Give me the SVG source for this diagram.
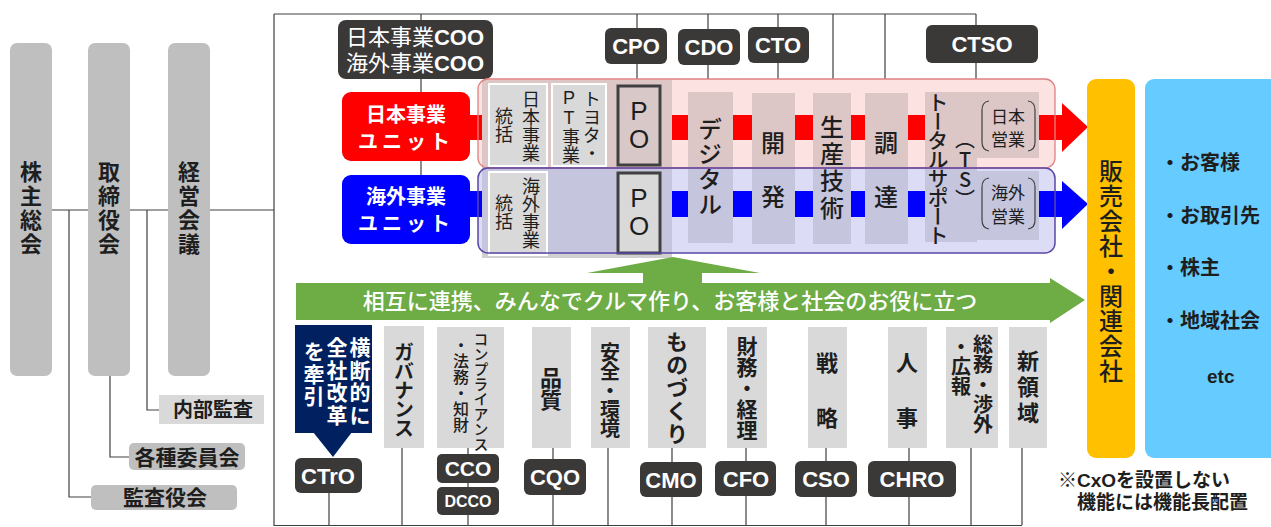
<svg xmlns="http://www.w3.org/2000/svg" width="1271" height="527" viewBox="0 0 1271 527">
<style>
text{font-family:"Liberation Sans","Noto Sans CJK JP",sans-serif;fill:#1e1e1e}
.jp{font-family:"Noto Sans CJK JP",sans-serif}
.v{writing-mode:vertical-rl;text-anchor:middle}
.vs{writing-mode:vertical-rl;text-anchor:start}
.up{text-orientation:upright}
.w{fill:#fff}
.b{font-weight:bold}
.md{font-weight:500}
.m{text-anchor:middle}
.dk{fill:#3b3838}
.g1{fill:#bfbfbf}
.col{fill:#d9d9d9}
.ln{stroke:#404040;stroke-width:1.2;fill:none}
.cp{fill:#dcc6c6}
.cb{fill:#c5c5de}
</style>
<rect width="1271" height="527" fill="#fff"/>
<g id="connectors" class="ln">
<path d="M52 210H88M130 210H168M210 210H274M69 210V497H91M110 375V457H129M147 210V410H159"/>
<path d="M274 14V526M274 14H976M274 525.5H1022"/>
<path d="M421 14V175M637 14V85M708 14V92M778 14V93M833 14V93M885 14V93M976 14V92"/>
<path d="M329 493V525M402 448V525M468 448V525M553 448V525M608 448V525M672 448V525M746 448V525M826 448V525M909 448V525M971 448V525M1022 448V525"/>
</g>
<g id="governance">
<g id="kabunushi"><rect class="g1" x="10" y="43" width="42" height="333" rx="7"/><text class="v jp b" x="31" y="209" font-size="22" letter-spacing="2">株主総会</text></g>
<g id="torishimariyaku"><rect class="g1" x="88" y="43" width="42" height="333" rx="7"/><text class="v jp b" x="109" y="209" font-size="22" letter-spacing="2">取締役会</text></g>
<g id="keiei"><rect class="g1" x="168" y="43" width="42" height="333" rx="7"/><text class="v jp b" x="189" y="209" font-size="22" letter-spacing="2">経営会議</text></g>
<g id="naibu"><rect x="159" y="395" width="105" height="29" fill="#d9d9d9"/><text class="m jp b" x="213" y="417" font-size="20">内部監査</text></g>
<g id="kakushu"><rect class="g1" x="129" y="443" width="116" height="27" rx="5"/><text class="m jp b" x="187" y="465" font-size="21">各種委員会</text></g>
<g id="kansa"><rect class="g1" x="91" y="485" width="146" height="25" rx="5"/><text class="m jp b" x="165" y="505" font-size="21">監査役会</text></g>
</g>
<g id="top-officers">
<g id="coo"><rect class="dk" x="338" y="20" width="155" height="59" rx="8"/><text class="m w" x="415" y="45" font-size="22">日本事業<tspan font-weight="bold">COO</tspan></text><text class="m w" x="415" y="71" font-size="22">海外事業<tspan font-weight="bold">COO</tspan></text></g>
<g id="cpo"><rect class="dk" x="605" y="28" width="62" height="36" rx="6"/><text class="m w b" x="636" y="54" font-size="22">CPO</text></g>
<g id="cdo"><rect class="dk" x="678" y="29" width="62" height="36" rx="6"/><text class="m w b" x="709" y="55" font-size="22">CDO</text></g>
<g id="cto"><rect class="dk" x="748" y="27" width="61" height="36" rx="6"/><text class="m w b" x="778" y="53" font-size="22">CTO</text></g>
<g id="ctso"><rect class="dk" x="926" y="25" width="112" height="38" rx="6"/><text class="m w b" x="982" y="52" font-size="22">CTSO</text></g>
</g>
<g id="business-bands">
<rect x="478" y="79" width="577" height="89" rx="10" fill="#fde2e2"/>
<rect x="478" y="168" width="577" height="85" rx="10" fill="#dcdcf6"/>
<rect x="470" y="115" width="592" height="25" fill="#ff0000"/>
<polygon points="1062,103 1088,127 1062,152" fill="#ff0000"/>
<rect x="470" y="191" width="592" height="26" fill="#0000ff"/>
<polygon points="1062,181 1088,204 1062,229" fill="#0000ff"/>
<rect class="cp" x="482" y="80" width="190" height="88"/>
<rect class="cb" x="482" y="168" width="190" height="85"/>
<rect x="482" y="253" width="190" height="5" fill="#d0d0d0"/>
<g id="jp-tokatsu"><rect x="489" y="84" width="58" height="82" fill="#d9d9d9" stroke="#fff" stroke-width="2"/><text class="v jp" x="531" y="126" font-size="18">日本事業</text><text class="v jp" x="504" y="125" font-size="18">統括</text></g>
<g id="toyota-pt"><rect x="552" y="84" width="54" height="82" fill="#d9d9d9" stroke="#fff" stroke-width="2"/><text class="v jp" x="592" y="126" font-size="18">トヨタ・</text><text class="v up" x="569" y="126" font-size="18">PT事業</text></g>
<g id="kaigai-tokatsu"><rect x="489" y="172" width="58" height="83" fill="#d9d9d9" stroke="#fff" stroke-width="2"/><text class="v jp" x="531" y="213" font-size="18">海外事業</text><text class="v jp" x="504" y="212" font-size="18">統括</text></g>
<g id="po-jp"><rect x="618" y="86" width="42" height="79" fill="#d9c8c8" stroke="#404040" stroke-width="3"/><text class="m" x="639" y="120" font-size="26">P</text><text class="m" x="639" y="148" font-size="26">O</text></g>
<g id="po-kaigai"><rect x="618" y="173" width="42" height="80" fill="#d9d9d9" stroke="#404040" stroke-width="3"/><text class="m" x="639" y="207" font-size="26">P</text><text class="m" x="639" y="235" font-size="26">O</text></g>
<g id="digital"><rect class="cp" x="688" y="92" width="45" height="76"/><rect class="cb" x="688" y="168" width="45" height="75"/><text class="v jp md" x="710" y="167" font-size="24" letter-spacing="1">デジタル</text></g>
<g id="kaihatsu"><rect class="cp" x="752" y="93" width="43" height="75"/><rect class="cb" x="752" y="168" width="43" height="76"/><text class="m jp md" x="773" y="152" font-size="24">開</text><text class="m jp md" x="773" y="206" font-size="24">発</text></g>
<g id="seisan"><rect class="cp" x="813" y="93" width="38" height="75"/><rect class="cb" x="813" y="168" width="38" height="76"/><text class="v jp md" x="832" y="169" font-size="24" letter-spacing="3">生産技術</text></g>
<g id="chotatsu"><rect class="cp" x="865" y="93" width="43" height="75"/><rect class="cb" x="865" y="168" width="43" height="76"/><text class="m jp md" x="886" y="152" font-size="24">調</text><text class="m jp md" x="886" y="206" font-size="24">達</text></g>
<g id="total-support"><rect class="cp" x="925" y="92" width="52" height="76"/><rect class="cb" x="925" y="168" width="52" height="74"/><rect class="cp" x="977" y="92" width="62" height="66"/><rect class="cb" x="977" y="171" width="62" height="69"/>
<text class="v jp md" x="938" y="168" font-size="21" letter-spacing="-2">トータルサポート</text><text class="v up jp md" x="965" y="169" font-size="20">（TS）</text>
<path class="ln" d="M989 101Q982 102 982 110V142Q982 150 989 151M1028 101Q1035 102 1035 110V142Q1035 150 1028 151M989 178Q982 179 982 187V220Q982 228 989 229M1028 178Q1035 179 1035 187V220Q1035 228 1028 229"/>
<text class="m jp" x="1008" y="123" font-size="17">日本</text><text class="m jp" x="1008" y="146" font-size="17">営業</text><text class="m jp" x="1008" y="199" font-size="17">海外</text><text class="m jp" x="1008" y="223" font-size="17">営業</text></g>
<rect x="478" y="79" width="577" height="89" rx="10" fill="none" stroke="#e08080" stroke-width="1.3"/>
<rect x="478" y="168" width="577" height="85" rx="10" fill="none" stroke="#5a46a8" stroke-width="1.5"/>
</g>
<g id="jp-unit"><rect x="342" y="92" width="128" height="69" rx="9" fill="#ff0000"/><text class="m w jp b" x="406" y="122" font-size="20">日本事業</text><text class="m w jp b" x="406" y="149" font-size="20" letter-spacing="4">ユニット</text></g>
<g id="kaigai-unit"><rect x="342" y="175" width="128" height="69" rx="9" fill="#0000ff"/><text class="m w jp b" x="406" y="204" font-size="20">海外事業</text><text class="m w jp b" x="406" y="231" font-size="20" letter-spacing="4">ユニット</text></g>
<g id="green-arrow"><polygon points="296,283 643,283 643,273 587,273 673,257 760,273 702,273 702,283 1050,283 1050,278 1085,300 1050,323 1050,320 296,320" fill="#6eac46"/><text class="m w jp md" x="670" y="309" font-size="22">相互に連携、みんなでクルマ作り、お客様と社会のお役に立つ</text></g>
<g id="functions">
<g id="ctro-arrow"><rect x="295" y="325" width="77" height="108" fill="#002060"/><polygon points="313,432 352,432 333,457" fill="#002060"/>
<text class="vs w jp b" x="360" y="337" font-size="21" letter-spacing="1.5">横断的に</text><text class="vs w jp b" x="337" y="337" font-size="21" letter-spacing="1.5">全社改革</text><text class="vs w jp b" x="314" y="341" font-size="21" letter-spacing="1.5">を牽引</text></g>
<g id="ctro"><rect class="dk" x="295" y="458" width="67" height="35" rx="6"/><text class="m w b" x="328" y="484" font-size="22">CTrO</text></g>
<g id="governance-f"><rect class="col" x="384" y="326" width="40" height="122"/><text class="v jp b" x="404" y="390" font-size="20" letter-spacing="-1">ガバナンス</text></g>
<g id="compliance"><rect class="col" x="437" y="327" width="67" height="121"/><text class="v jp md" x="481" y="392" font-size="15">コンプライアンス</text><text class="v jp md" x="461" y="385" font-size="16">・法務・知財</text></g>
<g id="cco"><rect class="dk" x="437" y="454" width="62" height="29" rx="5"/><text class="m w b" x="468" y="476" font-size="21">CCO</text></g>
<g id="dcco"><rect class="dk" x="437" y="487" width="62" height="28" rx="5"/><text class="m w b" x="468" y="507" font-size="16">DCCO</text></g>
<g id="hinshitsu"><rect class="col" x="532" y="327" width="39" height="121"/><text class="v jp b" x="551" y="389" font-size="22">品質</text></g>
<g id="cqo"><rect class="dk" x="524" y="459" width="62" height="36" rx="6"/><text class="m w b" x="555" y="485" font-size="22">CQO</text></g>
<g id="anzen"><rect class="col" x="591" y="327" width="39" height="121"/><text class="v jp b" x="610" y="390" font-size="20" letter-spacing="-1">安全・環境</text></g>
<g id="monozukuri"><rect class="col" x="648" y="327" width="58" height="121"/><text class="v jp b" x="677" y="388" font-size="22" letter-spacing="1">ものづくり</text></g>
<g id="cmo"><rect class="dk" x="640" y="462" width="62" height="35" rx="6"/><text class="m w b" x="671" y="488" font-size="22">CMO</text></g>
<g id="zaimu"><rect class="col" x="727" y="327" width="40" height="121"/><text class="v jp b" x="747" y="388" font-size="21">財務・経理</text></g>
<g id="cfo"><rect class="dk" x="715" y="461" width="61" height="35" rx="6"/><text class="m w b" x="746" y="487" font-size="22">CFO</text></g>
<g id="senryaku"><rect class="col" x="808" y="327" width="39" height="121"/><text class="m jp b" x="827" y="371" font-size="22">戦</text><text class="m jp b" x="827" y="426" font-size="22">略</text></g>
<g id="cso"><rect class="dk" x="795" y="461" width="62" height="36" rx="6"/><text class="m w b" x="826" y="487" font-size="22">CSO</text></g>
<g id="jinji"><rect class="col" x="888" y="327" width="39" height="121"/><text class="m jp b" x="907" y="371" font-size="22">人</text><text class="m jp b" x="907" y="426" font-size="22">事</text></g>
<g id="chro"><rect class="dk" x="868" y="461" width="88" height="36" rx="6"/><text class="m w b" x="912" y="487" font-size="22">CHRO</text></g>
<g id="somu"><rect class="col" x="946" y="327" width="52" height="121"/><text class="v jp b" x="983" y="384" font-size="20">総務・渉外</text><text class="vs jp b" x="961" y="336" font-size="20">・広報</text></g>
<g id="shinryoiki"><rect class="col" x="1009" y="327" width="38" height="121"/><text class="v jp b" x="1028" y="389" font-size="22" letter-spacing="4">新領域</text></g>
</g>
<g id="hanbai"><rect x="1087" y="79" width="48" height="379" rx="9" fill="#ffc000"/><text class="v jp md" x="1111" y="271" font-size="24" letter-spacing="1">販売会社・関連会社</text></g>
<g id="stakeholders"><rect x="1145" y="79" width="140" height="379" rx="9" fill="#66ccff"/>
<text class="jp b" x="1160" y="170" font-size="20">・お客様</text><text class="jp b" x="1160" y="223" font-size="20">・お取引先</text><text class="jp b" x="1160" y="275" font-size="20">・株主</text><text class="jp b" x="1160" y="328" font-size="20">・地域社会</text><text class="b" x="1207" y="383" font-size="19">etc</text></g>
<g id="note"><text class="b" x="1058" y="487" font-size="19">※CxOを設置しない</text><text class="b" x="1077" y="509" font-size="19">機能には機能長配置</text></g>
</svg>
